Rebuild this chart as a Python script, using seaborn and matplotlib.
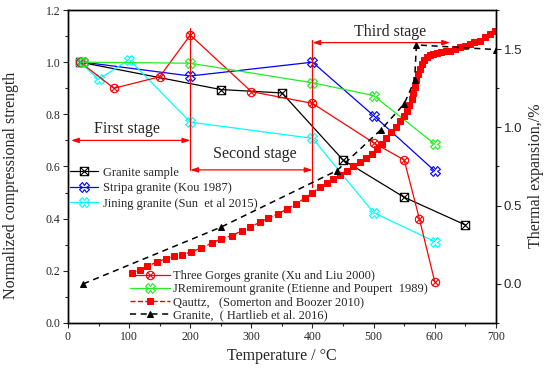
import matplotlib
matplotlib.use("Agg")
import matplotlib.pyplot as plt
import seaborn as sns
from matplotlib.path import Path
from matplotlib.ticker import MultipleLocator, FormatStrFormatter

# --------------------------------------------------
# Data
# --------------------------------------------------

granite_t = [20, 250, 350, 450, 550, 650]
granite_s = [1.0, 0.895, 0.882, 0.625, 0.482, 0.376]

stripa_t = [25, 200, 400, 500, 600]
stripa_s = [1.0, 0.947, 1.0, 0.795, 0.583]

jining_t = [20, 50, 100, 200, 400, 500, 600]
jining_s = [1.0, 0.934, 1.01, 0.77, 0.708, 0.423, 0.312]

gorges_t = [20, 75, 150, 200, 300, 400, 500, 550, 575, 600]
gorges_s = [1.0, 0.90, 0.944, 1.104, 0.887, 0.842, 0.691, 0.625, 0.398, 0.158]

remire_t = [25, 200, 400, 500, 600]
remire_s = [1.0, 0.996, 0.921, 0.872, 0.686]

quartz_t = [104, 118, 130, 145, 160, 173, 187, 202, 218, 236, 251, 268,
            284, 298, 314, 328, 343, 359, 373, 388, 400, 412, 423, 434,
            445, 456, 467, 478, 487, 497, 505, 513, 521, 529, 536, 543,
            549, 554, 558, 562, 565, 567.5, 570, 573, 576, 578.5, 582,
            587, 592, 597.5, 604, 611, 618, 625, 633, 641, 649, 657, 665,
            674, 682, 690, 698]
quartz_e = [0.070, 0.091, 0.113, 0.139, 0.160, 0.177, 0.185, 0.206, 0.228,
            0.262, 0.288, 0.309, 0.337, 0.362, 0.394, 0.420, 0.447, 0.479,
            0.511, 0.549, 0.583, 0.618, 0.645, 0.671, 0.697, 0.724, 0.751,
            0.778, 0.804, 0.831, 0.862, 0.895, 0.932, 0.969, 1.004, 1.040,
            1.073, 1.107, 1.143, 1.180, 1.218, 1.257, 1.300, 1.342, 1.376,
            1.406, 1.430, 1.449, 1.460, 1.470, 1.475, 1.480, 1.485, 1.490,
            1.500, 1.512, 1.523, 1.534, 1.545, 1.555, 1.575, 1.597, 1.615]

hartlieb_t = [25, 250, 440, 512, 550, 567, 570, 700]
hartlieb_e = [0.0, 0.362, 0.724, 0.985, 1.15, 1.30, 1.527, 1.497]

labels_left = [
    "Granite sample",
    "Stripa granite (Kou 1987)",
    "Jining granite (Sun  et al 2015)",
]
labels_right = [
    "Three Gorges granite (Xu and Liu 2000)",
    "JRemiremount granite (Etienne and Poupert  1989)",
    "Qauttz,   (Somerton and Boozer 2010)",
    "Granite,  ( Hartlieb et al. 2016)",
]

stage_names = ["First stage", "Second stage", "Third stage"]
stage_x = [(5, 200), (200, 400), (400, 625)]
stage_y = [0.70, 0.587, 1.075]
stage_text_xy = [(96, 0.73), (306, 0.632), (527, 1.10)]
stage_walls = [(200, 0.587, 1.13), (400, 0.523, 1.085)]

# --------------------------------------------------
# Markers
# --------------------------------------------------

M, L, C = Path.MOVETO, Path.LINETO, Path.CLOSEPOLY

box_x = Path(
    [(-1, -1), (1, -1), (1, 1), (-1, 1), (-1, -1),
     (-1, -1), (1, 1), (-1, 1), (1, -1)],
    [M, L, L, L, C, M, L, M, L]
)

d = 0.707
circle_x = Path.make_compound_path(
    Path.unit_circle(),
    Path([(-d, -d), (d, d), (-d, d), (d, -d)], [M, L, M, L])
)

# --------------------------------------------------
# Figure
# --------------------------------------------------

sns.set_style("ticks")
plt.rcParams["font.family"] = ["Liberation Serif", "DejaVu Serif"]
plt.rcParams["xtick.direction"] = "out"
plt.rcParams["ytick.direction"] = "out"

fig = plt.figure(figsize=(5.5, 3.76), dpi=100)
ax = fig.add_axes([0.1236, 0.141, 0.778, 0.8324])
ax2 = ax.twinx()

lw = 0.9
ms = 6

sns.lineplot(x=granite_t, y=granite_s, ax=ax, color="black", lw=lw,
             marker=box_x, markersize=ms, markerfacecolor="none",
             markeredgecolor="black", markeredgewidth=0.8,
             label=labels_left[0], errorbar=None)

sns.lineplot(x=stripa_t, y=stripa_s, ax=ax, color="blue", lw=lw,
             marker="X", markersize=ms + 1, markerfacecolor="none",
             markeredgecolor="blue", markeredgewidth=0.8,
             label=labels_left[1], errorbar=None)

sns.lineplot(x=jining_t, y=jining_s, ax=ax, color="cyan", lw=lw,
             marker="X", markersize=ms + 1, markerfacecolor="none",
             markeredgecolor="cyan", markeredgewidth=0.8,
             label=labels_left[2], errorbar=None)

sns.lineplot(x=gorges_t, y=gorges_s, ax=ax, color="red", lw=lw,
             marker=circle_x, markersize=ms, markerfacecolor="none",
             markeredgecolor="red", markeredgewidth=0.8,
             label=labels_right[0], errorbar=None)

sns.lineplot(x=remire_t, y=remire_s, ax=ax, color="#22ee22", lw=lw,
             marker="X", markersize=ms + 1, markerfacecolor="none",
             markeredgecolor="#22ee22", markeredgewidth=0.8,
             label=labels_right[1], errorbar=None)

sns.lineplot(x=quartz_t, y=quartz_e, ax=ax2, color="red", lw=1.0,
             linestyle="--", marker="s", markersize=4.8,
             markerfacecolor="red", markeredgecolor="red",
             label=labels_right[2], errorbar=None)

sns.lineplot(x=hartlieb_t, y=hartlieb_e, ax=ax2, color="black", lw=1.1,
             linestyle=(0, (4, 3)), marker="^", markersize=5,
             markerfacecolor="black", markeredgecolor="black",
             label=labels_right[3], errorbar=None)

# --------------------------------------------------
# Stage annotations
# --------------------------------------------------

for (x0, x1), y in zip(stage_x, stage_y):
    ax.annotate(
        "", xy=(x1, y), xytext=(x0, y),
        arrowprops=dict(arrowstyle="<|-|>,head_length=0.45,head_width=0.15",
                        color="red", lw=0.9, shrinkA=0, shrinkB=0)
    )

for x, y0, y1 in stage_walls:
    ax.plot([x, x], [y0, y1], color="red", lw=0.9)

for name, (tx, ty) in zip(stage_names, stage_text_xy):
    ax.text(tx, ty, name, ha="center", va="baseline", fontsize=11.5)

# --------------------------------------------------
# Axes
# --------------------------------------------------

ax.set_xlim(0, 700)
ax.set_ylim(0, 1.2)
ax2.set_ylim(-0.25, 1.75)

ax.xaxis.set_major_locator(MultipleLocator(100))
ax.xaxis.set_minor_locator(MultipleLocator(50))
ax.yaxis.set_major_locator(MultipleLocator(0.2))
ax.yaxis.set_minor_locator(MultipleLocator(0.1))
ax.yaxis.set_major_formatter(FormatStrFormatter("%.1f"))
ax2.yaxis.set_major_locator(MultipleLocator(0.5))
ax2.yaxis.set_minor_locator(MultipleLocator(0.25))
ax2.yaxis.set_major_formatter(FormatStrFormatter("%.1f"))

ax.tick_params(which="major", length=3.5, width=0.8, labelsize=8.5,
               pad=2, top=False, right=False)
ax.tick_params(which="minor", length=2.5, width=0.8, top=False,
               right=False)
ax2.tick_params(which="major", length=3.5, width=0.8, labelsize=9.5,
                pad=2, labelfontfamily="Liberation Sans")
ax2.tick_params(which="minor", length=2.5, width=0.8)

for spine in list(ax.spines.values()) + list(ax2.spines.values()):
    spine.set_linewidth(1.0)
    spine.set_color("black")

ax.set_xlabel("Temperature / °C", fontsize=11.5, labelpad=4)
ax.set_ylabel("Normalized compressional strength", fontsize=11.5)
ax.yaxis.set_label_coords(-0.115, 0.44)
ax2.set_ylabel("Thermal expansion,/%", fontsize=11.5)
ax2.yaxis.set_label_coords(1.075, 0.47)

# --------------------------------------------------
# Legends
# --------------------------------------------------

h1, l1 = ax.get_legend_handles_labels()
h2, l2 = ax2.get_legend_handles_labels()
handles = dict(zip(l1 + l2, h1 + h2))

ax.legend_ = None
ax2.legend_ = None

leg1 = ax2.legend(
    [handles[k] for k in labels_left], labels_left,
    loc="upper left", bbox_to_anchor=(0.127, 0.557),
    bbox_transform=fig.transFigure, frameon=False, fontsize=9,
    handlelength=2.25, handletextpad=0.4, labelspacing=0.28,
    borderpad=0, borderaxespad=0, numpoints=1
)
ax2.add_artist(leg1)

ax2.legend(
    [handles[k] for k in labels_right], labels_right,
    loc="upper left", bbox_to_anchor=(0.236, 0.282),
    bbox_transform=fig.transFigure, frameon=False, fontsize=9,
    handlelength=3.2, handletextpad=0.25, labelspacing=0.08,
    borderpad=0, borderaxespad=0, numpoints=1
)

fig.savefig("out.png", dpi=100)
